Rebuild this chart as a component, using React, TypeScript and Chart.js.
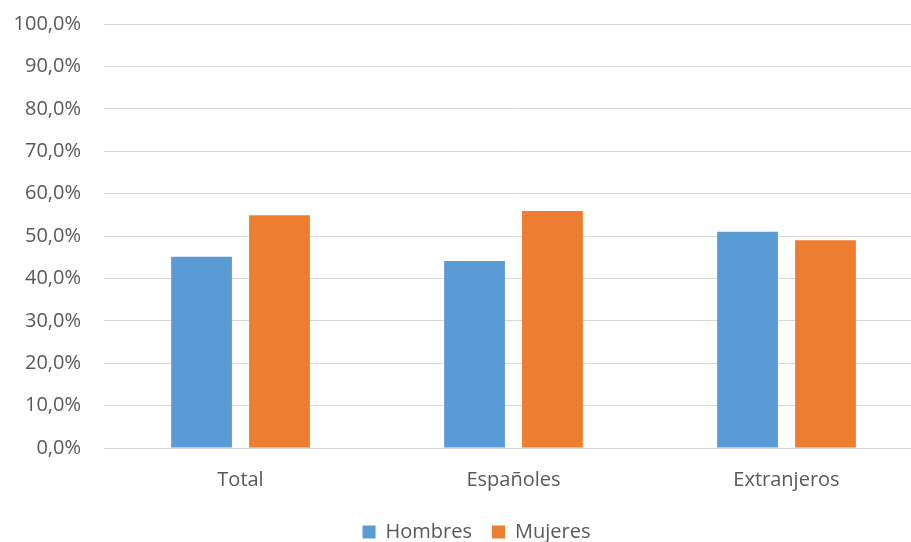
import React, { useEffect, useRef } from "react";
import { Chart, registerables } from "chart.js";

Chart.register(...registerables);

const categories = ["Total", "Españoles", "Extranjeros"];
const hombres = [45.1, 44.1, 51.0];
const mujeres = [54.9, 55.9, 49.0];
const yTicks = { min: 0, max: 100, step: 10 };

const shiftLegend = {
  id: "shiftLegend",
  afterLayout(chart: any) {
    const lg = chart.legend;
    if (lg) {
      lg.left += 9;
      lg.right += 9;
    }
  },
};

export default function App() {
  const ref = useRef<HTMLCanvasElement | null>(null);
  useEffect(() => {
    if (!ref.current) return;
    const font = { family: "'Open Sans', sans-serif", size: 20 };
    const chart = new Chart(ref.current, {
      type: "bar",
      data: {
        labels: categories,
        datasets: [
          { label: "Hombres", data: hombres, backgroundColor: "#5B9BD5", barPercentage: 0.78, categoryPercentage: 0.571 },
          { label: "Mujeres", data: mujeres, backgroundColor: "#ED7D31", barPercentage: 0.78, categoryPercentage: 0.571 },
        ],
      },
      plugins: [shiftLegend],
      options: {
        responsive: false,
        animation: false,
        layout: { padding: { left: 12, right: 12, top: 24, bottom: -10 } },
        plugins: {
          tooltip: { enabled: false },
          legend: {
            position: "bottom",
            labels: { font, color: "#595959", boxWidth: 13, boxHeight: 13, padding: 20 },
          },
        },
        scales: {
          x: {
            grid: { display: false },
            border: { display: true, color: "#D9D9D9", width: 1 },
            ticks: { font, color: "#595959", padding: 12 },
            afterFit: (s: any) => { s.height = s.height - 2; },
          },
          y: {
            min: yTicks.min,
            max: yTicks.max,
            afterFit: (s: any) => { s.width = 92; s.paddingTop = 0; s.paddingBottom = 0; },
            grid: { color: "#D9D9D9", lineWidth: 1, drawTicks: false },
            border: { display: false },
            ticks: {
              stepSize: yTicks.step,
              font,
              color: "#595959",
              padding: 23,
              callback: (v: any) => Number(v).toFixed(1).replace(".", ",") + "%",
            },
          },
        },
      },
    });
    return () => chart.destroy();
  }, []);
  return (
    <div style={{ position: "absolute", left: 0, top: 0, width: 911, height: 542, overflow: "hidden", background: "#fff" }}>
      <canvas ref={ref} width={935} height={542} style={{ display: "block" }} />
    </div>
  );
}
